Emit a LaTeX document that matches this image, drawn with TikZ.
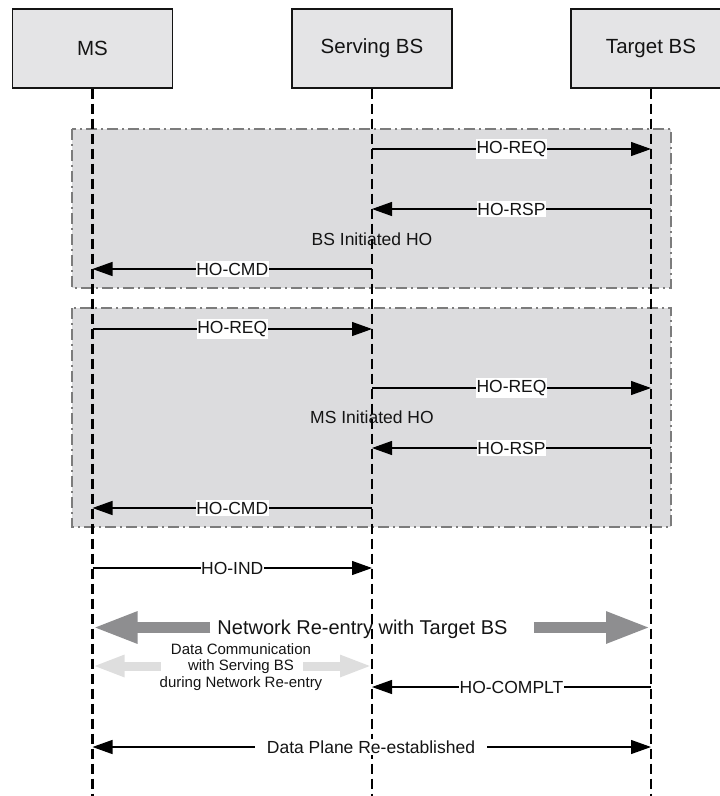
\documentclass[tikz,border=0pt]{standalone}
\usepackage{fontspec}
\setmainfont{Liberation Sans}
\usetikzlibrary{arrows.meta,calc}
\definecolor{boxfill}{HTML}{E4E4E6}
\definecolor{zonefill}{HTML}{DCDCDE}
\definecolor{zoneline}{HTML}{7C7C7C}
\definecolor{bigarrowgray}{HTML}{8E8E90}
\definecolor{lightarrowgray}{HTML}{DEDEDE}
\definecolor{ink}{HTML}{141414}

\begin{document}
\begin{tikzpicture}[x=1pt,y=-1pt,
  entity/.style={draw=ink, line width=1.3pt, fill=boxfill, minimum width=160pt,
    minimum height=79pt, inner sep=0pt, font=\fontsize{20.5}{24}\selectfont, text=ink},
  lifeline/.style={draw=black, line width=2.3pt, dash pattern=on 10pt off 5pt},
  zone/.style={fill=zonefill, draw=zoneline, line width=2pt,
    dash pattern=on 11pt off 4pt on 2pt off 4pt},
  msg/.style={draw=black, line width=1.2pt, -{Triangle[length=20pt,width=14pt]}},
  lbl/.style={fill=white, inner xsep=0.5pt, inner ysep=2pt,
    font=\fontsize{17.5}{20}\selectfont, text=ink},
  phase/.style={inner sep=0pt, font=\fontsize{17.5}{20}\selectfont, text=ink},
  bigtext/.style={inner sep=0pt, text height=14.3pt, text depth=0pt,
    font=\fontsize{20}{24}\selectfont, text=ink},
  smalltext/.style={inner sep=0pt, align=center, font=\fontsize{15}{16.5}\selectfont, text=ink},
  bigarr/.style={draw=bigarrowgray, line width=11pt, -{Triangle[length=45pt,width=29pt]}},
  lightarr/.style={draw=lightarrowgray, line width=9pt, -{Triangle[length=32pt,width=20pt]}}
]
\useasboundingbox (0,0) rectangle (720,796);

% participants
\node[entity] (ms) at (92.5,48.5) {MS};
\node[entity] (ss) at (372,48.5) {Serving BS};
\node[entity] (ts) at (651,48.5) {Target BS};

% handover phases
\draw[zone] (72,129) rectangle (671,288);
\draw[zone] (72,308) rectangle (671,527);
\node[phase] (bsho) at (372,239) {BS Initiated HO};
\node[phase] (msho) at (372,417) {MS Initiated HO};

% lifelines
\coordinate (msend) at (ms |- 0,796);
\coordinate (ssend) at (ss |- 0,796);
\coordinate (tsend) at (ts |- 0,796);
\draw[lifeline] (ms.south) -- (msend);
\draw[lifeline] (ss.south) -- (ssend);
\draw[lifeline] (ts.south) -- (tsend);

% BS initiated handover
\draw[msg] (ss |- 0,149) -- node[lbl] (m1) {HO-REQ} (ts |- 0,149);
\draw[msg] (ts |- 0,209) -- node[lbl] (m2) {HO-RSP} (ss |- 0,209);
\draw[msg] (ss |- 0,269) -- node[lbl] (m3) {HO-CMD} (ms |- 0,269);

% MS initiated handover
\draw[msg] (ms |- 0,329) -- node[lbl] (m4) {HO-REQ} (ss |- 0,329);
\draw[msg] (ss |- 0,388) -- node[lbl] (m5) {HO-REQ} (ts |- 0,388);
\draw[msg] (ts |- 0,448) -- node[lbl] (m6) {HO-RSP} (ss |- 0,448);
\draw[msg] (ss |- 0,508) -- node[lbl] (m7) {HO-CMD} (ms |- 0,508);

% indication
\draw[msg] (ms |- 0,568) -- node[lbl] (m8) {HO-IND} (ss |- 0,568);

% network re-entry
\node[bigtext] (net) at (362.5,627.5) {Network Re-entry with Target BS};
\draw[bigarr] ([xshift=-7pt]net.west) -- (ms |- net);
\draw[bigarr] ([xshift=26pt]net.east) -- (ts |- net);

% data communication with the serving BS
\coordinate (dcy) at (0,666);
\node[smalltext] (dc) at (241,667) {Data Communication\\with Serving BS\\during Network Re-entry};
\draw[lightarr] ([xshift=1pt]dc.west |- dcy) -- (ms |- dcy);
\draw[lightarr] ([xshift=-19pt]dc.east |- dcy) -- (ss |- dcy);

% completion
\draw[msg] (ts |- 0,687) -- node[lbl] (m9) {HO-COMPLT} (ss |- 0,687);

% data plane
\coordinate (dpy) at (0,747);
\draw[msg, {Triangle[length=20pt,width=14pt]}-{Triangle[length=20pt,width=14pt]}]
  (ms |- dpy) -- (ts |- dpy);
\node[lbl, inner xsep=12pt] (dp) at (371,747) {Data Plane Re-established};
\end{tikzpicture}
\end{document}
